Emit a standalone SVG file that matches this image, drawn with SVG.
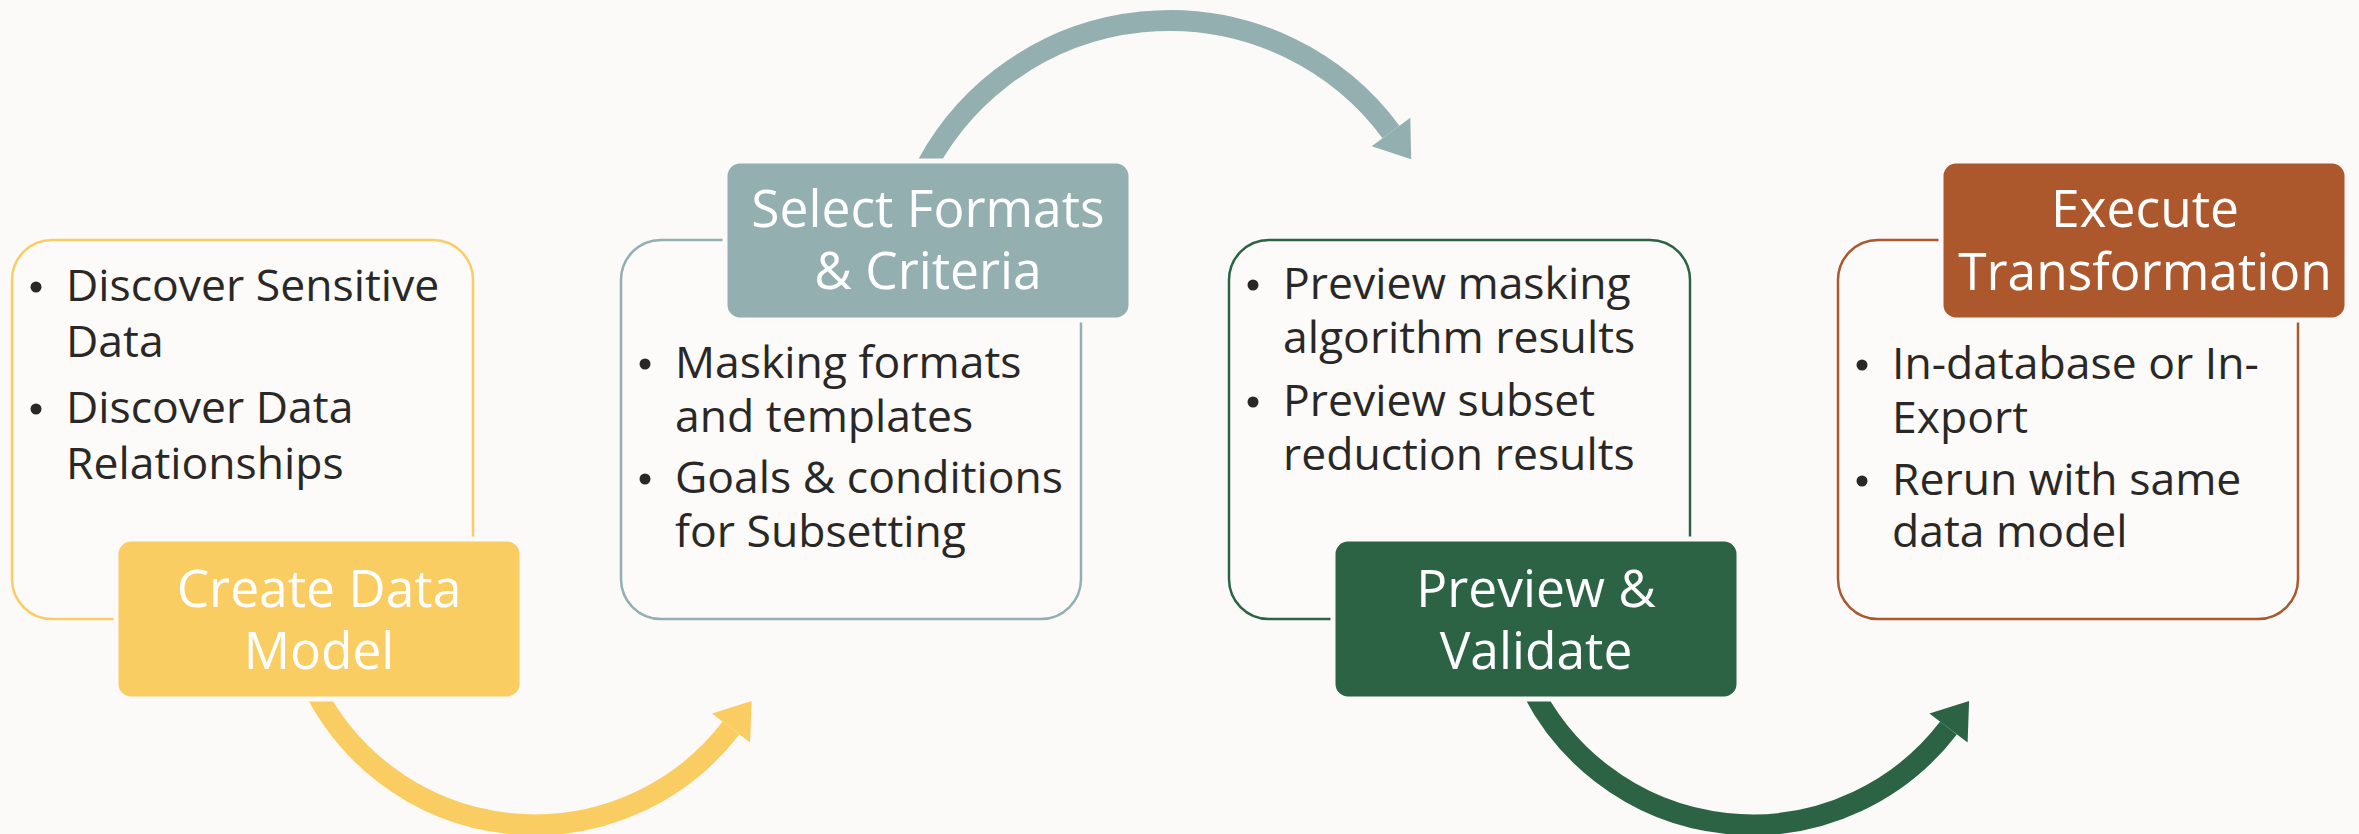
<svg xmlns="http://www.w3.org/2000/svg" width="2359" height="834" viewBox="0 0 2359 834">
<defs>
<style>
.bg{fill:#FBFAF8}
.body{font-family:"Open Sans","Noto Sans",sans-serif;font-size:44.5px;fill:#2A2826}
.title{font-family:"Open Sans","Noto Sans",sans-serif;font-size:51.5px;fill:#FFFFFF;text-anchor:middle}
.outline{fill:#FCFBFA;stroke-width:2.5}
.head{stroke:#FBFAF8;stroke-width:5}
.dot{fill:#2A2826}
.arc{fill:none;stroke-width:21}
</style>
</defs>
<rect class="bg" x="0" y="0" width="2359" height="834"/>

<g id="connectors">
  <g id="arrow-1">
    <path class="arc" stroke="#FACD63" d="M311.1,682.4 A247,247 0 0 0 731,728"/>
    <polygon fill="#FACD63" points="711.9,713.4 751.6,701 750.1,742.6"/>
  </g>
  <g id="arrow-2">
    <path class="arc" stroke="#94AFB0" d="M919.9,179.6 A275.5,275.5 0 0 1 1391,132"/>
    <polygon fill="#94AFB0" points="1410.3,117.7 1411.2,159.3 1371.7,146.3"/>
  </g>
  <g id="arrow-3" transform="translate(1217.5,0)">
    <path class="arc" stroke="#2B6344" d="M311.1,682.4 A247,247 0 0 0 731,728"/>
    <polygon fill="#2B6344" points="711.9,713.4 751.6,701 750.1,742.6"/>
  </g>
</g>

<g id="node-create-data-model">
  <rect class="outline" stroke="#F9CD63" x="12" y="240" width="461" height="379" rx="40"/>
  <circle class="dot" cx="36" cy="287" r="5.5"/>
  <circle class="dot" cx="36" cy="409" r="5.5"/>
  <text class="body" x="66" y="301">Discover Sensitive</text>
  <text class="body" x="66" y="357">Data</text>
  <text class="body" x="66" y="423">Discover Data</text>
  <text class="body" x="66" y="479">Relationships</text>
  <rect class="head" fill="#FACD63" x="116" y="539" width="406" height="160" rx="15"/>
  <text class="title" x="319" y="607">Create Data</text>
  <text class="title" x="319" y="669">Model</text>
</g>

<g id="node-select-formats">
  <rect class="outline" stroke="#94AFB0" x="621" y="240" width="460" height="379" rx="40"/>
  <circle class="dot" cx="645" cy="364" r="5.5"/>
  <circle class="dot" cx="645" cy="479" r="5.5"/>
  <text class="body" x="675" y="378">Masking formats</text>
  <text class="body" x="675" y="432">and templates</text>
  <text class="body" x="675" y="493">Goals &amp; conditions</text>
  <text class="body" x="675" y="547">for Subsetting</text>
  <rect class="head" fill="#94AFB0" x="725" y="161" width="406" height="159" rx="15"/>
  <text class="title" x="928" y="227">Select Formats</text>
  <text class="title" x="928" y="289">&amp; Criteria</text>
</g>

<g id="node-preview-validate">
  <rect class="outline" stroke="#2B6344" x="1229" y="240" width="461" height="379" rx="40"/>
  <circle class="dot" cx="1253" cy="285" r="5.5"/>
  <circle class="dot" cx="1253" cy="402" r="5.5"/>
  <text class="body" x="1283" y="299">Preview masking</text>
  <text class="body" x="1283" y="353">algorithm results</text>
  <text class="body" x="1283" y="416">Preview subset</text>
  <text class="body" x="1283" y="470">reduction results</text>
  <rect class="head" fill="#2B6344" x="1333" y="539" width="406" height="160" rx="15"/>
  <text class="title" x="1536" y="607">Preview &amp;</text>
  <text class="title" x="1536" y="669">Validate</text>
</g>

<g id="node-execute-transformation">
  <rect class="outline" stroke="#AD572D" x="1838" y="240" width="460" height="379" rx="40"/>
  <circle class="dot" cx="1862" cy="365" r="5.5"/>
  <circle class="dot" cx="1862" cy="481" r="5.5"/>
  <text class="body" x="1892" y="379">In-database or In-</text>
  <text class="body" x="1892" y="433">Export</text>
  <text class="body" x="1892" y="495">Rerun with same</text>
  <text class="body" x="1892" y="547">data model</text>
  <rect class="head" fill="#AD572D" x="1941" y="161" width="406" height="159" rx="15"/>
  <text class="title" x="2145" y="227">Execute</text>
  <text class="title" x="2145" y="290">Transformation</text>
</g>
</svg>
